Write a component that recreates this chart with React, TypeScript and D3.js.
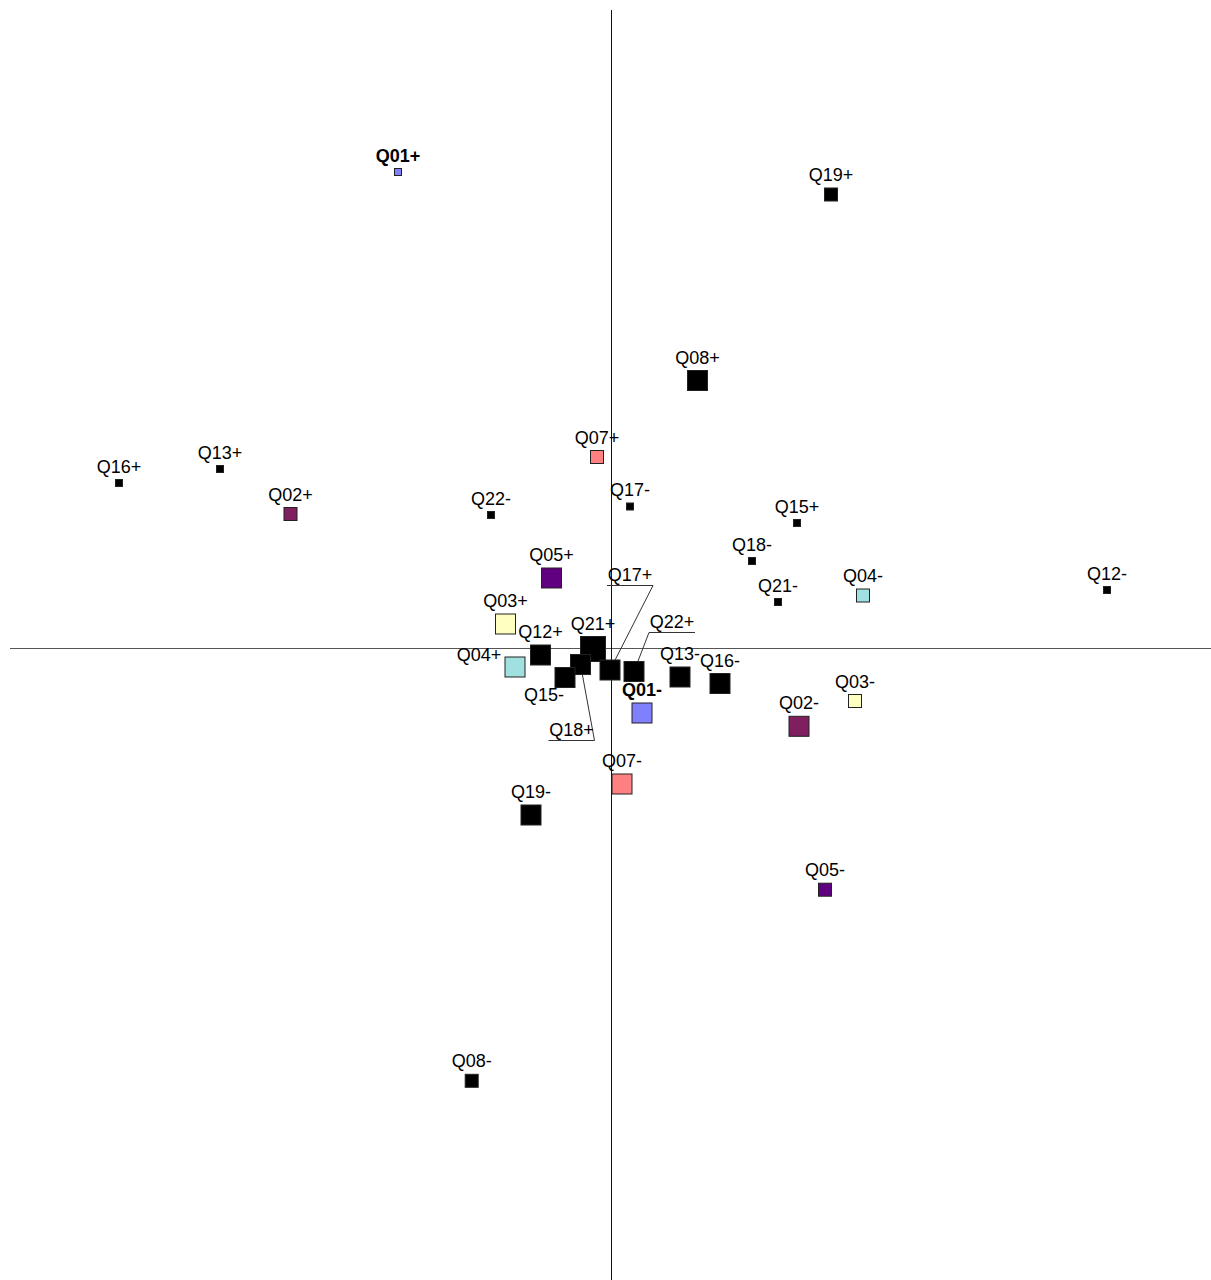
import * as d3 from 'd3'

// modalities (label, coordinates on the two factor axes, size class)
const names = [
  'Q01+', 'Q19+', 'Q08+', 'Q07+', 'Q17-', 'Q16+', 'Q13+', 'Q02+', 'Q22-', 'Q15+',
  'Q18-', 'Q21-', 'Q04-', 'Q12-', 'Q05+', 'Q03+', 'Q12+', 'Q04+', 'Q21+', 'Q18+',
  'Q15-', 'Q17+', 'Q22+', 'Q13-', 'Q16-', 'Q01-', 'Q03-', 'Q02-', 'Q07-', 'Q19-',
  'Q05-', 'Q08-',
]
const axis1 = [
  -2.13, 2.2, 0.865, -0.14, 0.19, -4.92, -3.91, -3.205, -1.2, 1.86,
  1.41, 1.67, 2.52, 4.96, -0.595, -1.055, -0.705, -0.96, -0.18, -0.305,
  -0.46, -0.01, 0.23, 0.69, 1.09, 0.31, 2.44, 1.88, 0.11, -0.8,
  2.14, -1.393,
]
const axis2 = [
  4.76, 4.535, 2.675, 1.91, 1.415, 1.65, 1.79, 1.34, 1.33, 1.25,
  0.87, 0.46, 0.525, 0.58, 0.7, 0.24, -0.07, -0.19, -0.01, -0.165,
  -0.295, -0.22, -0.235, -0.29, -0.355, -0.65, -0.53, -0.783, -1.36, -1.67,
  -2.417, -4.328,
]
const sizeClass = [
  1, 2, 3, 2, 1, 1, 1, 2, 1, 1,
  1, 1, 2, 1, 3, 3, 3, 3, 4, 3,
  3, 3, 3, 3, 3, 3, 2, 3, 3, 3,
  2, 2,
]
const boldNames = ['Q01+', 'Q01-']

const qColors: Record<string, string> = {
  Q01: '#8080ff',
  Q02: '#7f1f5f',
  Q03: '#ffffc0',
  Q04: '#a0e0e0',
  Q05: '#600080',
  Q07: '#ff8080',
}

// labels moved away from their marker (dx, dy in px), some with a leader line
const moved: Record<string, { dx: number; dy: number; leader?: 'left' | 'right' }> = {
  'Q04+': { dx: -36, dy: -6 },
  'Q15-': { dx: -21, dy: 23.5 },
  'Q17+': { dx: 20, dy: -89, leader: 'right' },
  'Q22+': { dx: 38, dy: -43.5, leader: 'left' },
  'Q18+': { dx: -9, dy: 71.5, leader: 'right' },
}

const W = 1211
const H = 1280

export default function App() {
  const x = d3.scaleLinear().domain([-6.01, 6.0]).range([10, W])
  const y = d3.scaleLinear().domain([-6.32, 6.38]).range([H, 10])
  const size = d3.scaleOrdinal<number, number>().domain([1, 2, 3, 4]).range([7, 13, 20, 25])

  const pts = names.map((n, i) => {
    const s = size(sizeClass[i])
    const cx = x(axis1[i])
    const cy = y(axis2[i])
    const m = moved[n]
    const lx = m ? cx + m.dx : cx
    const ly = m ? cy + m.dy : cy - s / 2 - 7
    return { n, cx, cy, s, lx, ly, leader: m?.leader, fill: qColors[n.slice(0, 3)] ?? '#000' }
  })

  const x0 = Math.round(x(0)) + 0.5
  const y0 = Math.round(y(0)) + 0.5

  return (
    <svg width={W} height={H} style={{ position: 'absolute', left: 0, top: 0, display: 'block' }}
      fontFamily='"Liberation Sans", Arial, sans-serif'>
      <line x1={x(-6.01)} x2={x(6.0)} y1={y0} y2={y0} stroke="#555" strokeWidth={1} />
      <line x1={x0} x2={x0} y1={y(6.38)} y2={y(-6.32)} stroke="#111" strokeWidth={1} />

      {pts.filter(p => p.leader).map(p => {
        const ux = p.leader === 'right' ? p.lx + 23 : p.lx - 23
        const uy = Math.round(p.ly + 4) + 0.5
        return (
          <g key={'l' + p.n} stroke="#333" strokeWidth={1}>
            <line x1={p.lx - 23} x2={p.lx + 23} y1={uy} y2={uy} />
            <line x1={ux} y1={uy} x2={p.cx} y2={p.cy} />
          </g>
        )
      })}

      {pts.map(p => (
        <rect key={'r' + p.n} x={p.cx - p.s / 2} y={p.cy - p.s / 2} width={p.s} height={p.s}
          fill={p.fill} stroke="#222" strokeWidth={1} />
      ))}

      {pts.map(p => (
        <text key={'t' + p.n} x={p.lx} y={p.ly} textAnchor="middle" fontSize={18}
          fontWeight={boldNames.includes(p.n) ? 'bold' : 'normal'} fill="#000">{p.n}</text>
      ))}
    </svg>
  )
}
